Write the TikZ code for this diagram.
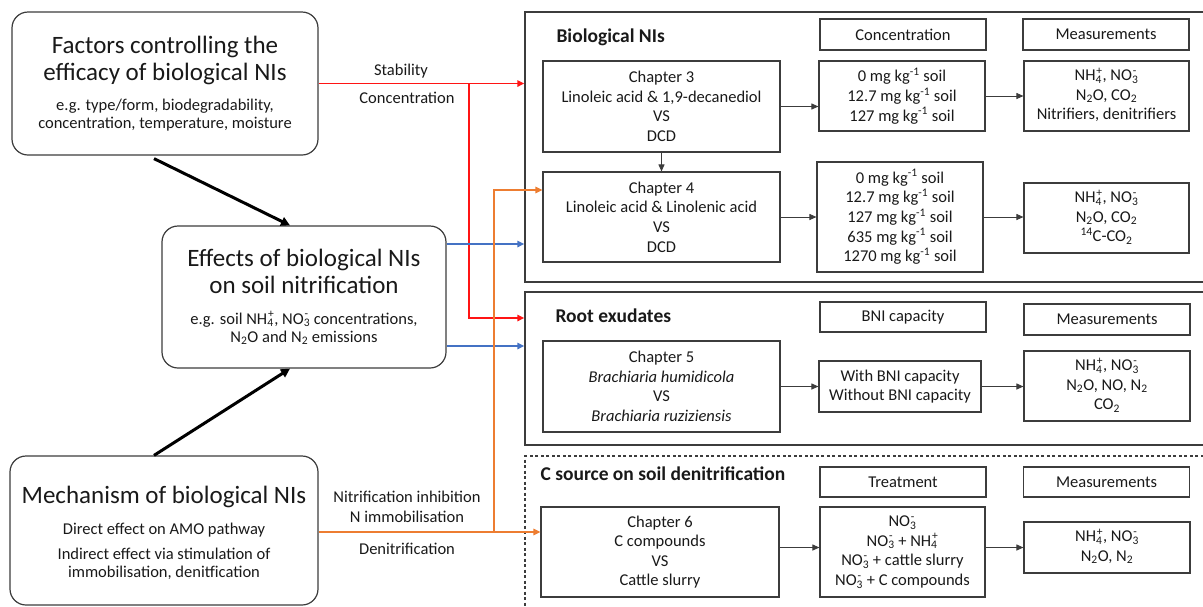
\documentclass[tikz,border=0pt]{standalone}
\usepackage{fontspec}
\setmainfont{Carlito}
\usetikzlibrary{arrows.meta,calc}
\newcommand\sbsp[2]{\mbox{\ooalign{\textsubscript{#1}\cr\kern0.05em\textsuperscript{#2}\cr}}}
\definecolor{redc}{RGB}{255,20,20}
\definecolor{bluec}{RGB}{68,114,196}
\definecolor{orangec}{RGB}{237,125,49}
\definecolor{linec}{RGB}{60,60,60}
\definecolor{txt}{RGB}{25,25,25}
\begin{document}
\begin{tikzpicture}[x=1pt,y=-1pt,
  every node/.style={text=txt},
  bigbox/.style={draw=linec, line width=1.2pt, rounded corners=16pt, inner sep=0pt},
  secbox/.style={draw=linec, line width=1.4pt, inner sep=0pt},
  hbox/.style={draw=linec, line width=1.1pt, inner sep=0pt, font=\fontsize{16.5}{19}\selectfont},
  cbox/.style={draw=linec, line width=1.1pt, inner sep=0pt, align=center, font=\fontsize{16.5}{19.6}\selectfont},
  ttl/.style={font=\fontsize{25}{27}\selectfont, align=center, anchor=base},
  det/.style={font=\fontsize{16.5}{18}\selectfont, align=center, anchor=base},
  lab/.style={font=\fontsize{16.5}{18}\selectfont, anchor=base},
  sect/.style={font=\fontsize{19.5}{22}\selectfont\bfseries, anchor=base west},
  arr/.style={draw=linec, line width=0.9pt, -{Triangle[length=7pt,width=6pt]}},
  carr/.style={line width=1.5pt, -{Triangle[length=7pt,width=6.5pt]}},
  karr/.style={draw=black, line width=3pt, -{Triangle[length=9pt,width=9pt]}}
]
\useasboundingbox (0,0) rectangle (1203,606);
% ---- left boxes
\node[bigbox, minimum width=306pt, minimum height=143pt] (factors) at (165,83.5) {};
\node[ttl] (factorsT) at (165,80) {Factors controlling the\\efficacy of biological NIs};
\node[det] (factorsD) at (165,128) {e.g. type/form, biodegradability,\\concentration, temperature, moisture};
\node[bigbox, minimum width=284pt, minimum height=142pt] (effects) at (304,297) {};
\node[ttl] (effectsT) at (304,293) {Effects of biological NIs\\on soil nitrification};
\node[det] (effectsD) at (304,342) {e.g. soil NH\sbsp{4}{+}, NO\sbsp{3}{-} concentrations,\\N\textsubscript{2}O and N\textsubscript{2} emissions};
\node[bigbox, minimum width=308pt, minimum height=149pt] (mech) at (164,530.5) {};
\node[ttl] (mechT) at (164,503) {Mechanism of biological NIs};
\node[det] (mechD1) at (164,534) {Direct effect on AMO pathway};
\node[det] (mechD2) at (164,577) {Indirect effect via stimulation of\\immobilisation, denitfication};
\draw[karr] ([xshift=-11pt,yshift=-3pt]factors.south) -- ([xshift=-14pt]effects.north);
\draw[karr] ([xshift=-10pt]mech.north) -- ([xshift=-14pt]effects.south);
% ---- sections
\node[secbox, minimum width=700pt, minimum height=270pt] (sec1) at (875,147) {};
\node[secbox, minimum width=700pt, minimum height=153pt] (sec2) at (875,368.5) {};
\node[secbox, dash pattern=on 3pt off 2.5pt, line width=1.2pt, minimum width=700pt, minimum height=164pt] (sec3) at (875,538) {};
\node[sect] (sec1T) at (553,42) {Biological NIs};
\node[sect] (sec2T) at (552,322) {Root exudates};
\node[sect] (sec3T) at (537,480) {C source on soil denitrification};
% headers
\node[hbox, minimum width=166pt, minimum height=31pt] (h1a) at (903,34.5) {Concentration};
\node[hbox, minimum width=166pt, minimum height=31pt] (h1b) at (1106,34.5) {Measurements};
\node[hbox, minimum width=166pt, minimum height=30pt] (h2a) at (903,317) {BNI capacity};
\node[hbox, minimum width=166pt, minimum height=31pt] (h2b) at (1107,319.5) {Measurements};
\node[hbox, minimum width=166pt, minimum height=30pt] (h3a) at (903,482) {Treatment};
\node[hbox, minimum width=166pt, minimum height=30pt] (h3b) at (1106.5,482) {Measurements};
% content boxes
\node[cbox, minimum width=237pt, minimum height=91pt] (ch3) at (661.5,106.5) {Chapter 3\\Linoleic acid \& 1,9-decanediol\\VS\\DCD};
\node[cbox, minimum width=166pt, minimum height=70pt] (conc1) at (902,96) {0 mg kg\textsuperscript{-1} soil\\12.7 mg kg\textsuperscript{-1} soil\\127 mg kg\textsuperscript{-1} soil};
\node[cbox, minimum width=165pt, minimum height=70pt] (meas1) at (1106.5,96) {NH\sbsp{4}{+}, NO\sbsp{3}{-}\\N\textsubscript{2}O, CO\textsubscript{2}\\Nitrifiers, denitrifiers};
\node[cbox, minimum width=237pt, minimum height=90pt] (ch4) at (661.5,217) {Chapter 4\\Linoleic acid \& Linolenic acid\\VS\\DCD};
\node[cbox, minimum width=166pt, minimum height=110pt] (conc2) at (900,217) {0 mg kg\textsuperscript{-1} soil\\12.7 mg kg\textsuperscript{-1} soil\\127 mg kg\textsuperscript{-1} soil\\635 mg kg\textsuperscript{-1} soil\\1270 mg kg\textsuperscript{-1} soil};
\node[cbox, minimum width=165pt, minimum height=70pt] (meas2) at (1106.5,218) {NH\sbsp{4}{+}, NO\sbsp{3}{-}\\N\textsubscript{2}O, CO\textsubscript{2}\\\textsuperscript{14}C-CO\textsubscript{2}};
\node[cbox, minimum width=237pt, minimum height=91pt] (ch5) at (661.5,386.5) {Chapter 5\\\textit{Brachiaria humidicola}\\VS\\\textit{Brachiaria ruziziensis}};
\node[cbox, minimum width=162pt, minimum height=51pt] (bni) at (900,386.5) {With BNI capacity\\Without BNI capacity};
\node[cbox, minimum width=166pt, minimum height=70pt] (meas3) at (1107,386) {NH\sbsp{4}{+}, NO\sbsp{3}{-}\\N\textsubscript{2}O, NO, N\textsubscript{2}\\CO\textsubscript{2}};
\node[cbox, minimum width=238pt, minimum height=90pt] (ch6) at (660,552) {Chapter 6\\C compounds\\VS\\Cattle slurry};
\node[cbox, minimum width=165pt, minimum height=90pt] (treat) at (902.5,552) {NO\sbsp{3}{-}\\NO\sbsp{3}{-} + NH\sbsp{4}{+}\\NO\sbsp{3}{-} + cattle slurry\\NO\sbsp{3}{-} + C compounds};
\node[cbox, minimum width=166pt, minimum height=51pt] (meas4) at (1107,547.5) {NH\sbsp{4}{+}, NO\sbsp{3}{-}\\N\textsubscript{2}O, N\textsubscript{2}};
% gray arrows
\draw[arr] (ch3.east) -- (ch3.east -| conc1.west);
\draw[arr] (conc1.east) -- (meas1.west);
\draw[arr] (ch3.south) -- (ch4.north);
\draw[arr] (ch4.east) -- (conc2.west);
\draw[arr] (conc2.east) -- (conc2.east -| meas2.west);
\draw[arr] (ch5.east) -- (ch5.east -| bni.west);
\draw[arr] (bni.east) -- (bni.east -| meas3.west);
\draw[arr] (ch6.east |- meas4.west) -- (treat.west |- meas4.west);
\draw[arr] (treat.east |- meas4.west) -- (meas4.west);
% red
\coordinate (redsplit) at (469,83.5);
\coordinate (r2) at ([yshift=50.5pt]sec2.west);
\draw[redc, carr] (factors.east) -- (factors.east -| sec1.west);
\draw[redc, carr] (redsplit) |- (r2);
\node[lab] (stab) at (401,75) {Stability};
\node[lab] (concl) at (407,103) {Concentration};
% blue
\coordinate (b1) at ([yshift=53pt]effects.east);
\coordinate (b2) at ([yshift=-49pt]effects.east);
\draw[bluec, carr] (b1) -- (b1 -| sec1.west);
\draw[bluec, carr] (b2) -- (b2 -| sec2.west);
% orange
\coordinate (o1) at ([yshift=-1.5pt]mech.east);
\coordinate (osplit) at (494,532);
\coordinate (o2) at ([yshift=27pt]ch4.west);
\draw[orangec, carr] (o1) -- (o1 -| ch6.west);
\draw[orangec, carr] (osplit) |- (o2);
\node[lab] (nit) at (407,502) {Nitrification inhibition};
\node[lab] (nimm) at (407,522) {N immobilisation};
\node[lab] (denit) at (407,554) {Denitrification};
\end{tikzpicture}
\end{document}
